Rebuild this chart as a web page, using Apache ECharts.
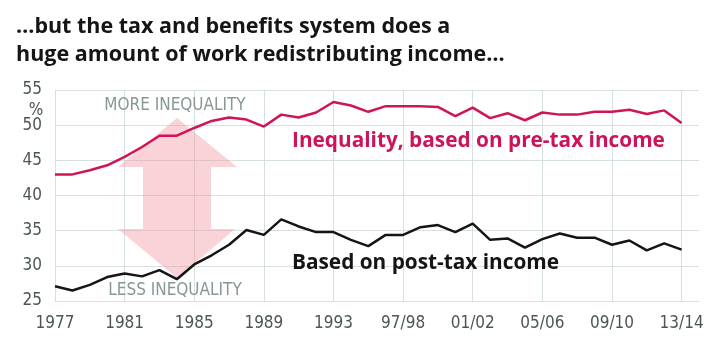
<!doctype html>
<html>
<head>
<meta charset="UTF-8">
<title>Inequality chart</title>
<script src="https://cdn.jsdelivr.net/npm/echarts@6/dist/echarts.min.js"></script>
<style>
  html, body { margin: 0; padding: 0; background: #fff; }
  #main { width: 713px; height: 354px; }
</style>
</head>
<body>
<div id="main"></div>
<script>
// categories (years, then financial years after 1993)
var years = ['1977','1978','1979','1980','1981','1982','1983','1984','1985','1986','1987','1988',
  '1989','1990','1991','1992','1993','94/95','95/96','96/97','97/98','98/99','99/00','00/01',
  '01/02','02/03','03/04','04/05','05/06','06/07','07/08','08/09','09/10','10/11','11/12','12/13','13/14'];

// inequality based on pre-tax income (%)
var preTax = [43.0, 43.0, 43.6, 44.3, 45.5, 46.9, 48.5, 48.5, 49.6, 50.6, 51.1, 50.8,
  49.8, 51.5, 51.1, 51.8, 53.3, 52.8, 51.9, 52.7, 52.7, 52.7, 52.6, 51.3,
  52.5, 51.0, 51.7, 50.7, 51.8, 51.5, 51.5, 51.9, 51.9, 52.2, 51.6, 52.1, 50.3];

// based on post-tax income (%)
var postTax = [27.1, 26.5, 27.3, 28.4, 28.9, 28.5, 29.4, 28.1, 30.2, 31.5, 33.0, 35.1,
  34.4, 36.6, 35.6, 34.8, 34.8, 33.7, 32.8, 34.4, 34.4, 35.5, 35.8, 34.8,
  36.0, 33.7, 33.9, 32.6, 33.8, 34.6, 34.0, 34.0, 33.0, 33.6, 32.2, 33.2, 32.3];

var yTicks = [25, 30, 35, 40, 45, 50, 55];

var myChart = echarts.init(document.getElementById('main'));

function pairs(arr) {
  return arr.map(function (v, i) { return [i, v]; });
}

var gridColor = '#d6e0df';
var labelColor = '#4b5755';
var narrow = '"Liberation Sans Narrow", "DejaVu Sans Condensed", sans-serif';

var option = {
  backgroundColor: '#fff',
  animation: false,
  grid: { left: 55, right: 14, top: 90, bottom: 53 },
  xAxis: {
    type: 'value',
    min: 0,
    max: years.length,
    interval: 4,
    axisLine: { show: true, lineStyle: { color: gridColor, width: 1 } },
    axisTick: { show: false },
    splitLine: { show: true, showMaxLine: false, lineStyle: { color: gridColor, width: 1 } },
    axisLabel: {
      color: labelColor,
      fontFamily: narrow,
      fontSize: 17,
      margin: 14,
      showMaxLabel: false,
      formatter: function (v) { return v % 4 === 0 ? (years[v] || '') : ''; }
    }
  },
  yAxis: {
    type: 'value',
    min: yTicks[0],
    max: yTicks[yTicks.length - 1],
    interval: 5,
    axisLine: { show: true, lineStyle: { color: gridColor, width: 1 } },
    axisTick: { show: false },
    splitLine: { lineStyle: { color: gridColor, width: 1 } },
    axisLabel: {
      color: labelColor,
      fontFamily: narrow,
      fontSize: 17,
      margin: 13
    }
  },
  graphic: [
    {
      type: 'text', left: 16, top: 13,
      style: {
        text: '…but the tax and benefits system does a\nhuge amount of work redistributing income…',
        fill: '#151515', font: 'bold 21.5px "Open Sans", sans-serif', lineHeight: 28
      }
    },
    {
      type: 'text', x: 36, y: 111,
      style: { text: '%', fill: labelColor, font: '17px ' + narrow, align: 'center', verticalAlign: 'middle' }
    },
    {
      type: 'polygon', z: 1,
      shape: { points: [[177,118],[237,167],[211,167],[211,229],[235,229],[177,278],[118,229],[143,229],[143,167],[118,167]] },
      style: { fill: 'rgba(240,150,160,0.42)' }
    },
    {
      type: 'text', x: 175, y: 106, z: 3,
      style: { text: 'MORE INEQUALITY', fill: '#889893', font: '17px ' + narrow, align: 'center', verticalAlign: 'middle' }
    },
    {
      type: 'text', x: 175, y: 291, z: 3,
      style: { text: 'LESS INEQUALITY', fill: '#889893', font: '17px ' + narrow, align: 'center', verticalAlign: 'middle' }
    },
    {
      type: 'text', x: 292, y: 141, z: 3,
      style: { text: 'Inequality, based on pre-tax income', fill: '#cc145a', font: 'bold 20.8px "Open Sans", sans-serif', verticalAlign: 'middle' }
    },
    {
      type: 'text', x: 292, y: 263, z: 3,
      style: { text: 'Based on post-tax income', fill: '#151515', font: 'bold 20.8px "Open Sans", sans-serif', verticalAlign: 'middle' }
    }
  ],
  series: [
    {
      name: 'Pre-tax',
      type: 'line',
      data: pairs(preTax),
      symbol: 'none',
      z: 5,
      lineStyle: { color: '#cf1459', width: 2.5 }
    },
    {
      name: 'Post-tax',
      type: 'line',
      data: pairs(postTax),
      symbol: 'none',
      z: 5,
      lineStyle: { color: '#151515', width: 2.5 }
    }
  ]
};

myChart.setOption(option);
</script>
</body>
</html>
